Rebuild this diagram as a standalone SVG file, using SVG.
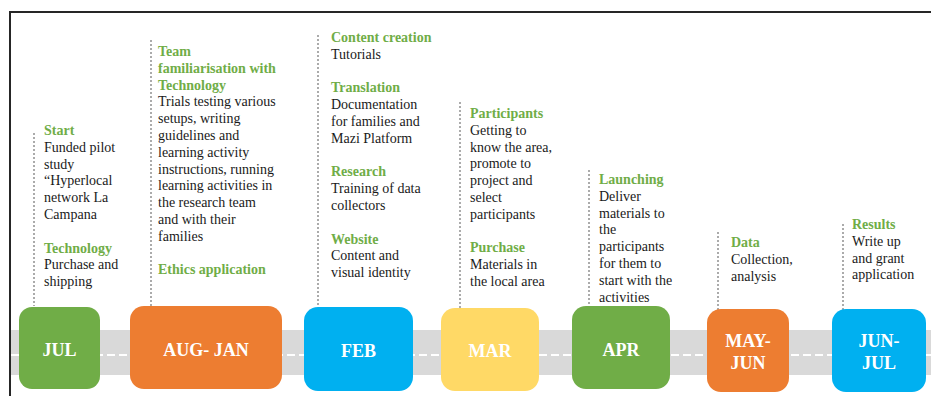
<svg xmlns="http://www.w3.org/2000/svg" width="931" height="396" viewBox="0 0 931 396">
<style>
  .frame{fill:none;stroke:#262626;stroke-width:2}
  .road{fill:#D9D9D9}
  .lane{stroke:#FFFFFF;stroke-width:2;stroke-dasharray:8 4;fill:none}
  .lead{stroke:#ABABAB;stroke-width:2;stroke-dasharray:2 2;fill:none}
  .green{fill:#70AD47}.orange{fill:#ED7D31}.blue{fill:#00B0F0}.yellow{fill:#FFD966}
  text{font-family:'Liberation Serif','DejaVu Serif',serif}
  .mon{font-weight:bold;font-size:18px;fill:#FFFFFF;text-anchor:middle}
  .t{font-size:14px;fill:#1A1A1A}
  .h{font-weight:bold;fill:#70AD47}
</style>
<rect width="931" height="396" fill="#FFFFFF"/>
<path class="frame" d="M10 396 V12 H931"/>
<rect class="road" x="11" y="330" width="920" height="45"/>
<line class="lane" x1="11" y1="355" x2="931" y2="355"/>
<g id="connectors">
  <line class="lead" x1="34" y1="133" x2="34" y2="306"/>
  <line class="lead" x1="151" y1="40" x2="151" y2="306"/>
  <line class="lead" x1="318" y1="35" x2="318" y2="306"/>
  <line class="lead" x1="460" y1="102" x2="460" y2="308"/>
  <line class="lead" x1="589" y1="170" x2="589" y2="310"/>
  <line class="lead" x1="718" y1="232" x2="718" y2="312"/>
  <line class="lead" x1="843" y1="224" x2="843" y2="311"/>
</g>
<g id="jul">
  <rect class="green" x="19" y="307" width="81" height="82" rx="13"/>
  <text class="mon" x="59.5" y="356">JUL</text>
  <text class="t">
    <tspan class="h" x="44" y="135">Start</tspan>
    <tspan x="44" y="151.8">Funded pilot</tspan>
    <tspan x="44" y="168.6">study</tspan>
    <tspan x="44" y="185.4">“Hyperlocal</tspan>
    <tspan x="44" y="202.2">network La</tspan>
    <tspan x="44" y="219">Campana</tspan>
    <tspan class="h" x="44" y="252.6">Technology</tspan>
    <tspan x="44" y="269.4">Purchase and</tspan>
    <tspan x="44" y="286.2">shipping</tspan>
  </text>
</g>
<g id="aug-jan">
  <rect class="orange" x="130" y="306" width="152" height="83" rx="14"/>
  <text class="mon" x="206" y="356">AUG- JAN</text>
  <text class="t">
    <tspan class="h" x="158" y="56">Team</tspan>
    <tspan class="h" x="158" y="72.8">familiarisation with</tspan>
    <tspan class="h" x="158" y="89.6">Technology</tspan>
    <tspan x="158" y="106.4">Trials testing various</tspan>
    <tspan x="158" y="123.2">setups, writing</tspan>
    <tspan x="158" y="140">guidelines and</tspan>
    <tspan x="158" y="156.8">learning activity</tspan>
    <tspan x="158" y="173.6">instructions, running</tspan>
    <tspan x="158" y="190.4">learning activities in</tspan>
    <tspan x="158" y="207.2">the research team</tspan>
    <tspan x="158" y="224">and with their</tspan>
    <tspan x="158" y="240.8">families</tspan>
    <tspan class="h" x="158" y="274.4">Ethics application</tspan>
  </text>
</g>
<g id="feb">
  <rect class="blue" x="304" y="307" width="109" height="84" rx="14"/>
  <text class="mon" x="358.5" y="357">FEB</text>
  <text class="t">
    <tspan class="h" x="331" y="42">Content creation</tspan>
    <tspan x="331" y="58.8">Tutorials</tspan>
    <tspan class="h" x="331" y="92.4">Translation</tspan>
    <tspan x="331" y="109.2">Documentation</tspan>
    <tspan x="331" y="126">for families and</tspan>
    <tspan x="331" y="142.8">Mazi Platform</tspan>
    <tspan class="h" x="331" y="176.4">Research</tspan>
    <tspan x="331" y="193.2">Training of data</tspan>
    <tspan x="331" y="210">collectors</tspan>
    <tspan class="h" x="331" y="243.6">Website</tspan>
    <tspan x="331" y="260.4">Content and</tspan>
    <tspan x="331" y="277.2">visual identity</tspan>
  </text>
</g>
<g id="mar">
  <rect class="yellow" x="441" y="308" width="98" height="83" rx="14"/>
  <text class="mon" x="490" y="357">MAR</text>
  <text class="t">
    <tspan class="h" x="470" y="118">Participants</tspan>
    <tspan x="470" y="134.8">Getting to</tspan>
    <tspan x="470" y="151.6">know the area,</tspan>
    <tspan x="470" y="168.4">promote to</tspan>
    <tspan x="470" y="185.2">project and</tspan>
    <tspan x="470" y="202">select</tspan>
    <tspan x="470" y="218.8">participants</tspan>
    <tspan class="h" x="470" y="252.4">Purchase</tspan>
    <tspan x="470" y="269.2">Materials in</tspan>
    <tspan x="470" y="286">the local area</tspan>
  </text>
</g>
<g id="apr">
  <rect class="green" x="572" y="306" width="98" height="83" rx="14"/>
  <text class="mon" x="621" y="356">APR</text>
  <text class="t">
    <tspan class="h" x="599" y="184">Launching</tspan>
    <tspan x="599" y="200.8">Deliver</tspan>
    <tspan x="599" y="217.6">materials to</tspan>
    <tspan x="599" y="234.4">the</tspan>
    <tspan x="599" y="251.2">participants</tspan>
    <tspan x="599" y="268">for them to</tspan>
    <tspan x="599" y="284.8">start with the</tspan>
    <tspan x="599" y="301.6">activities</tspan>
  </text>
</g>
<g id="may-jun">
  <rect class="orange" x="707" y="309" width="82" height="83" rx="14"/>
  <text class="mon" x="748" y="347">MAY-</text>
  <text class="mon" x="748" y="369">JUN</text>
  <text class="t">
    <tspan class="h" x="731" y="247">Data</tspan>
    <tspan x="731" y="263.8">Collection,</tspan>
    <tspan x="731" y="280.6">analysis</tspan>
  </text>
</g>
<g id="jun-jul">
  <rect class="blue" x="832" y="309" width="94" height="83" rx="14"/>
  <text class="mon" x="879" y="347">JUN-</text>
  <text class="mon" x="879" y="369">JUL</text>
  <text class="t">
    <tspan class="h" x="852" y="229">Results</tspan>
    <tspan x="852" y="245.8">Write up</tspan>
    <tspan x="852" y="262.6">and grant</tspan>
    <tspan x="852" y="279.4">application</tspan>
  </text>
</g>
</svg>
